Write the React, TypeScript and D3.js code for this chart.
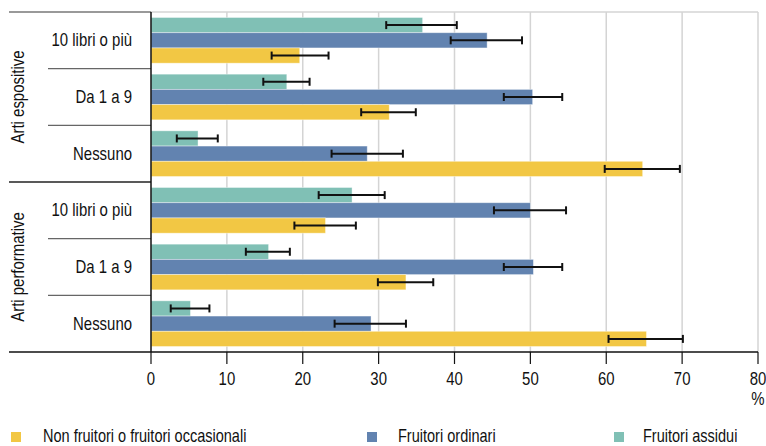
import React from "react";
import * as d3 from "d3";

const groups = ["Arti espositive", "Arti performative"];
const categories = ["10 libri o più", "Da 1 a 9", "Nessuno"];
const seriesNames = ["Fruitori assidui", "Fruitori ordinari", "Non fruitori o fruitori occasionali"];
const legendOrder = ["Non fruitori o fruitori occasionali", "Fruitori ordinari", "Fruitori assidui"];
const colors = ["#80C0B5", "#6283B0", "#F2C744"];

// values per row (group x category), series order: assidui, ordinari, non fruitori
const assidui = [35.8, 17.9, 6.2, 26.5, 15.5, 5.2];
const assiduiLo = [31.0, 14.8, 3.4, 22.1, 12.5, 2.6];
const assiduiHi = [40.3, 20.9, 8.8, 30.8, 18.3, 7.7];
const ordinari = [44.3, 50.3, 28.5, 50.0, 50.4, 29.0];
const ordinariLo = [39.5, 46.5, 23.8, 45.2, 46.5, 24.2];
const ordinariHi = [48.9, 54.2, 33.2, 54.7, 54.2, 33.6];
const nonFruitori = [19.6, 31.4, 64.8, 23.0, 33.6, 65.3];
const nonFruitoriLo = [15.9, 27.7, 59.8, 18.9, 29.9, 60.3];
const nonFruitoriHi = [23.4, 34.9, 69.7, 27.0, 37.2, 70.1];
const xTicks = [0, 10, 20, 30, 40, 50, 60, 70, 80];

const FONT = "'Liberation Sans', Arial, sans-serif";
const SX = 0.83;

function T({ x, y, anchor = "start", rotate = 0, size = 18, children }: any) {
  return (
    <text
      transform={`translate(${x},${y}) rotate(${rotate}) scale(${SX},1)`}
      textAnchor={anchor}
      fontSize={size}
      fill="#111"
    >
      {children}
    </text>
  );
}

export default function App() {
  const W = 766, H = 446;
  const left = 151, right = 758, top = 12, bottom = 352;
  const x = d3.scaleLinear().domain([0, 80]).range([left, right]);
  const rows = groups.flatMap((g) => categories.map((c) => `${g}|${c}`));
  const y = d3.scaleBand().domain(rows).range([top, bottom]).padding(0);
  const inner = d3.scaleBand().domain(seriesNames).range([0, y.bandwidth()]).paddingInner(0).paddingOuter(0.36);
  const vals = [assidui, ordinari, nonFruitori];
  const los = [assiduiLo, ordinariLo, nonFruitoriLo];
  const his = [assiduiHi, ordinariHi, nonFruitoriHi];
  const groupScale = d3.scaleBand().domain(groups).range([top, bottom]);

  return (
    <svg width={W} height={H} style={{ display: "block", position: "absolute", left: 0, top: 0 }} fontFamily={FONT}>
      <rect width={W} height={H} fill="#fff" />
      {/* gridlines */}
      {xTicks.slice(1).map((t) => (
        <line key={"g" + t} x1={x(t)} x2={x(t)} y1={top} y2={bottom} stroke="#d4d4d4" strokeWidth={1.5} />
      ))}
      <line x1={left} x2={right} y1={top} y2={top} stroke="#d4d4d4" strokeWidth={1.5} />
      {/* bars */}
      {rows.map((r, i) => (
        <g key={r}>
          {seriesNames.map((s, k) => {
            const yy = (y(r) as number) + (inner(s) as number);
            return (
              <rect key={s} x={x(0)} y={yy} width={x(vals[k][i]) - x(0)} height={inner.bandwidth()} fill={colors[k]} stroke="#ffffff" strokeOpacity={0.5} strokeWidth={0.8} />
            );
          })}
        </g>
      ))}
      {/* error bars */}
      {rows.map((r, i) => (
        <g key={"e" + r}>
          {seriesNames.map((s, k) => {
            const cy = (y(r) as number) + (inner(s) as number) + inner.bandwidth() / 2;
            const x1 = x(los[k][i]);
            const x2 = x(his[k][i]);
            return (
              <g key={s} stroke="#111" strokeWidth={2}>
                <line x1={x1} x2={x2} y1={cy} y2={cy} />
                <line x1={x1} x2={x1} y1={cy - 4} y2={cy + 4} />
                <line x1={x2} x2={x2} y1={cy - 4} y2={cy + 4} />
              </g>
            );
          })}
        </g>
      ))}
      {/* left label area lines */}
      <line x1={9} x2={left} y1={top} y2={top} stroke="#777" strokeWidth={1.5} />
      {rows.map((r, i) =>
        i % 3 !== 0 ? (
          <line key={"s" + r} x1={48} x2={left} y1={y(r) as number} y2={y(r) as number} stroke="#666" strokeWidth={1.3} />
        ) : null
      )}
      <line x1={9} x2={left} y1={groupScale(groups[1]) as number} y2={groupScale(groups[1]) as number} stroke="#222" strokeWidth={1.3} />
      {/* axes */}
      <line x1={9} x2={right} y1={bottom} y2={bottom} stroke="#111" strokeWidth={1.5} />
      <line x1={left} x2={left} y1={top} y2={bottom} stroke="#111" strokeWidth={1.5} />
      {xTicks.map((t) => (
        <g key={"t" + t}>
          <line x1={x(t)} x2={x(t)} y1={bottom} y2={bottom + 12} stroke="#111" strokeWidth={1.2} />
          <T x={x(t)} y={bottom + 33} anchor="middle">{t}</T>
        </g>
      ))}
      <T x={x(80)} y={bottom + 53} anchor="middle">%</T>
      {/* category labels */}
      {rows.map((r) => (
        <T key={"l" + r} x={132} y={(y(r) as number) + y.bandwidth() / 2 + 6} anchor="end">
          {r.split("|")[1]}
        </T>
      ))}
      {groups.map((g) => {
        const cy = (groupScale(g) as number) + groupScale.bandwidth() / 2;
        return (
          <T key={g} x={24} y={cy} rotate={-90} anchor="middle">
            {g}
          </T>
        );
      })}
      {/* legend */}
      {[[11, 43], [367, 398], [614, 643]].map(([sx, tx], i) => {
        const name = legendOrder[i];
        const k = seriesNames.indexOf(name);
        return (
          <g key={name}>
            <rect x={sx} y={432} width={10} height={10} fill={colors[k]} />
            <T x={tx} y={442} size={17.5}>{name}</T>
          </g>
        );
      })}
    </svg>
  );
}
